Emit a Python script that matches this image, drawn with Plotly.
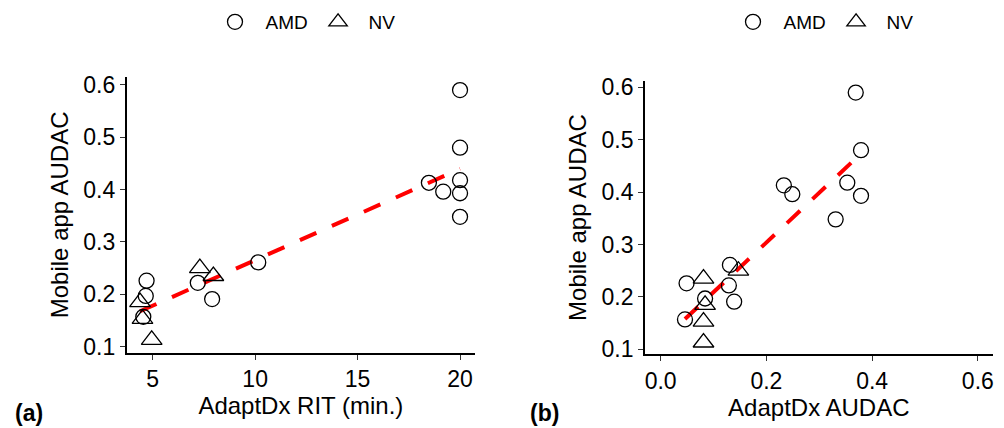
import numpy as np
import plotly.graph_objects as go

# ---- data ----
amd_y = [0.59, 0.48, 0.418, 0.393, 0.348, 0.413, 0.396, 0.261, 0.222, 0.191, 0.226, 0.197, 0.157]
amd_rit = [20, 20, 20, 20, 20, 18.48, 19.18, 10.15, 7.2, 7.9, 4.7, 4.66, 4.54]
amd_audac = [0.369, 0.379, 0.353, 0.379, 0.331, 0.233, 0.249, 0.131, 0.129, 0.139, 0.049, 0.084, 0.046]

nv_y = [0.25, 0.235, 0.113, 0.185, 0.153]
nv_rit = [7.3, 7.96, 4.95, 4.38, 4.5]
nv_audac = [0.147, 0.081, 0.081, 0.084, 0.081]

a_xticks = [5, 10, 15, 20]
b_xticks = [0.0, 0.2, 0.4, 0.6]
yticks = [0.1, 0.2, 0.3, 0.4, 0.5, 0.6]

FONT = "Arial, Liberation Sans, sans-serif"
NB = "\u00a0"


def fit_line(xs, ys):
    xs = np.asarray(xs, float)
    ys = np.asarray(ys, float)
    k, b = np.polyfit(xs, ys, 1)
    xx = np.array([xs.min(), xs.max()])
    return xx, k * xx + b


fig = go.Figure()

panels = [
    (amd_rit, nv_rit, "x", "y", "legend"),
    (amd_audac, nv_audac, "x2", "y2", "legend2"),
]
for amd_x, nv_x, xa, ya, lg in panels:
    fx, fy = fit_line(amd_x + nv_x, amd_y + nv_y)
    fig.add_trace(go.Scatter(
        x=fx, y=fy, mode="lines", xaxis=xa, yaxis=ya, showlegend=False,
        line=dict(color="#FF0000", width=4, dash="18px,17px"), hoverinfo="skip"))
    fig.add_trace(go.Scatter(
        x=amd_x, y=amd_y, mode="markers", name=NB * 2 + "AMD" + NB, xaxis=xa, yaxis=ya, legend=lg,
        marker=dict(symbol="circle-open", size=15, color="black", line=dict(width=1.3, color="black"))))
    fig.add_trace(go.Scatter(
        x=nv_x, y=nv_y, mode="markers", name=NB * 2 + "NV", xaxis=xa, yaxis=ya, legend=lg,
        marker=dict(symbol="triangle-up-open", size=18, color="black", line=dict(width=1.3, color="black"))))

axis_common = dict(
    showline=True, linecolor="black", linewidth=1.6, ticks="outside", ticklen=5,
    tickwidth=1.3, tickcolor="#333333", showgrid=False, zeroline=False, automargin=False,
    tickfont=dict(family=FONT, size=23, color="black"),
)

fig.update_layout(
    template="none",
    width=1004, height=428,
    margin=dict(l=0, r=0, t=0, b=0),
    paper_bgcolor="white", plot_bgcolor="white",
    font=dict(family=FONT, color="black"),
    xaxis=dict(domain=[0.1262, 0.4731], range=[3.73, 20.73], tickvals=a_xticks,
               title=dict(text="AdaptDx RIT (min.)", font=dict(size=24), standoff=2),
               anchor="y", **axis_common),
    yaxis=dict(domain=[0.1759, 0.8201], range=[0.0885, 0.615], tickvals=yticks, tickformat=".1f",
               title=dict(text="Mobile app AUDAC", font=dict(size=24), standoff=8),
               anchor="x", **axis_common),
    xaxis2=dict(domain=[0.6424, 0.9887], range=[-0.0297, 0.628], tickvals=b_xticks, tickformat=".1f",
                title=dict(text="AdaptDx AUDAC", font=dict(size=24), standoff=2),
                anchor="y2", **axis_common),
    yaxis2=dict(domain=[0.1722, 0.8114], range=[0.0905, 0.6126], tickvals=yticks, tickformat=".1f",
                title=dict(text="Mobile app AUDAC", font=dict(size=24), standoff=8),
                anchor="x2", **axis_common),
    legend=dict(orientation="h", x=215 / 1004, y=1 - 22 / 428, xanchor="left", yanchor="middle",
                font=dict(family=FONT, size=19), bgcolor="rgba(0,0,0,0)"),
    legend2=dict(orientation="h", x=733 / 1004, y=1 - 22 / 428, xanchor="left", yanchor="middle",
                 font=dict(family=FONT, size=19), bgcolor="rgba(0,0,0,0)"),
    annotations=[
        dict(text="<b>(a)</b>", x=13 / 1004, y=1 - 413 / 428, xref="paper", yref="paper",
             xanchor="left", yanchor="middle", showarrow=False, font=dict(family=FONT, size=23)),
        dict(text="<b>(b)</b>", x=528 / 1004, y=1 - 413 / 428, xref="paper", yref="paper",
             xanchor="left", yanchor="middle", showarrow=False, font=dict(family=FONT, size=23)),
    ],
)

fig.write_html("out.html", config={"displayModeBar": False},
               post_script="document.body.style.margin='0px';")
